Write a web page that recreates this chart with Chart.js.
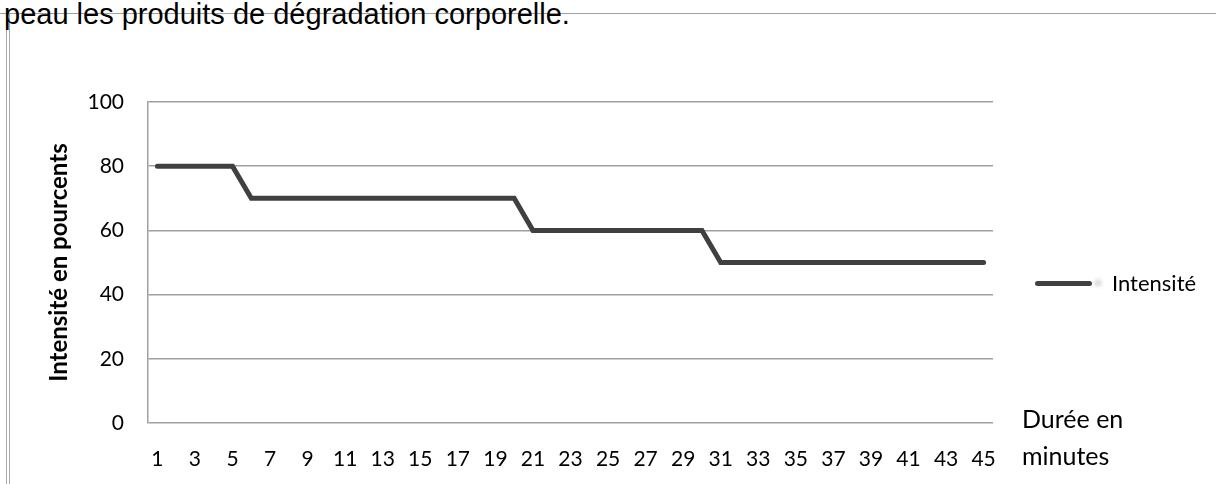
<!DOCTYPE html>
<html>
<head>
<meta charset="utf-8">
<script src="https://cdn.jsdelivr.net/npm/chart.js@4/dist/chart.umd.min.js"></script>
<style>
  html, body { margin: 0; padding: 0; background: #fff; }
  #page { position: relative; width: 1216px; height: 484px; overflow: hidden; }
  #wrap { position: absolute; left: 0; top: 0; width: 1216px; height: 484px; }
  .rule-h { position: absolute; left: 0; top: 13px; width: 1216px; height: 1px; background: #a0a0a0; }
  .rule-v { position: absolute; top: 13px; width: 1px; height: 471px; background: #a8a8a8; }
  #intro { position: absolute; left: 4px; top: -1px; font: 29px/30px "Liberation Sans", Arial, sans-serif; color: #000; white-space: nowrap; }
  .side { position: absolute; font: 25px/30px Lato, sans-serif; color: #000; white-space: nowrap; }
  #legLine { position: absolute; left: 1035px; top: 281px; width: 57px; height: 5px; background: #404040; border-radius: 3px; }
  #legDot { position: absolute; left: 1094px; top: 279px; width: 8px; height: 8px; background: #e2e2e2; border-radius: 4px; filter: blur(1.5px); }
</style>
</head>
<body>
<div id="page">
  <div class="rule-h"></div>
  <div class="rule-v" style="left:6px"></div>
  <div class="rule-v" style="left:9px"></div>
  <div id="intro">peau les produits de dégradation corporelle.</div>
  <div id="wrap"><canvas id="chart"></canvas></div>
  <div class="side" style="left:1022px; top:403px">Durée en</div>
  <div class="side" style="left:1022px; top:440px">minutes</div>
  <div id="legLine"></div>
  <div id="legDot"></div>
  <div class="side" id="legText" style="left:1112px; top:268px; font-size:22px"></div>
</div>
<script>
// minutes 1..45
const minutes = [1,2,3,4,5,6,7,8,9,10,11,12,13,14,15,16,17,18,19,20,21,22,23,24,25,26,27,28,29,30,31,32,33,34,35,36,37,38,39,40,41,42,43,44,45];
// intensity (%)
const intensite = [80,80,80,80,80,
  70,70,70,70,70,70,70,70,70,70,70,70,70,70,70,
  60,60,60,60,60,60,60,60,60,60,
  50,50,50,50,50,50,50,50,50,50,50,50,50,50,50];
const seriesName = 'Intensité';
const yTitle = 'Intensité en pourcents';

document.getElementById('legText').textContent = seriesName;

const gridGrey = '#a0a0a0';
const tickFont = { family: 'Lato', size: 21 };

new Chart(document.getElementById('chart').getContext('2d'), {
  type: 'line',
  data: {
    labels: minutes,
    datasets: [{
      label: seriesName,
      data: intensite,
      borderColor: '#404040',
      backgroundColor: '#404040',
      borderWidth: 5,
      borderCapStyle: 'round',
      pointRadius: 0,
      tension: 0,
      fill: false
    }]
  },
  options: {
    responsive: true,
    maintainAspectRatio: false,
    animation: false,
    layout: { padding: { left: 0, right: 223, top: 102, bottom: 0 } },
    plugins: { legend: { display: false }, tooltip: { enabled: false } },
    scales: {
      x: {
        offset: true,
        grid: { display: false },
        border: { display: false },
        ticks: {
          font: tickFont, color: '#000', padding: 16,
          autoSkip: false, maxRotation: 0,
          callback: (v, i) => i % 2 === 0 ? minutes[i] : ''
        },
        afterFit: s => { s.height = 61; }
      },
      y: {
        min: 0, max: 100,
        grid: { color: gridGrey, lineWidth: 1.5, drawTicks: false },
        border: { display: true, color: gridGrey, width: 1.5 },
        ticks: { stepSize: 20, font: tickFont, color: '#000', padding: 24 },
        title: {
          display: true, text: yTitle, color: '#000',
          font: { family: 'Lato', size: 24, weight: 'bold' },
          padding: { top: 45, bottom: 0 }
        },
        afterFit: s => { s.width = 148; }
      }
    }
  }
});
</script>
</body>
</html>
